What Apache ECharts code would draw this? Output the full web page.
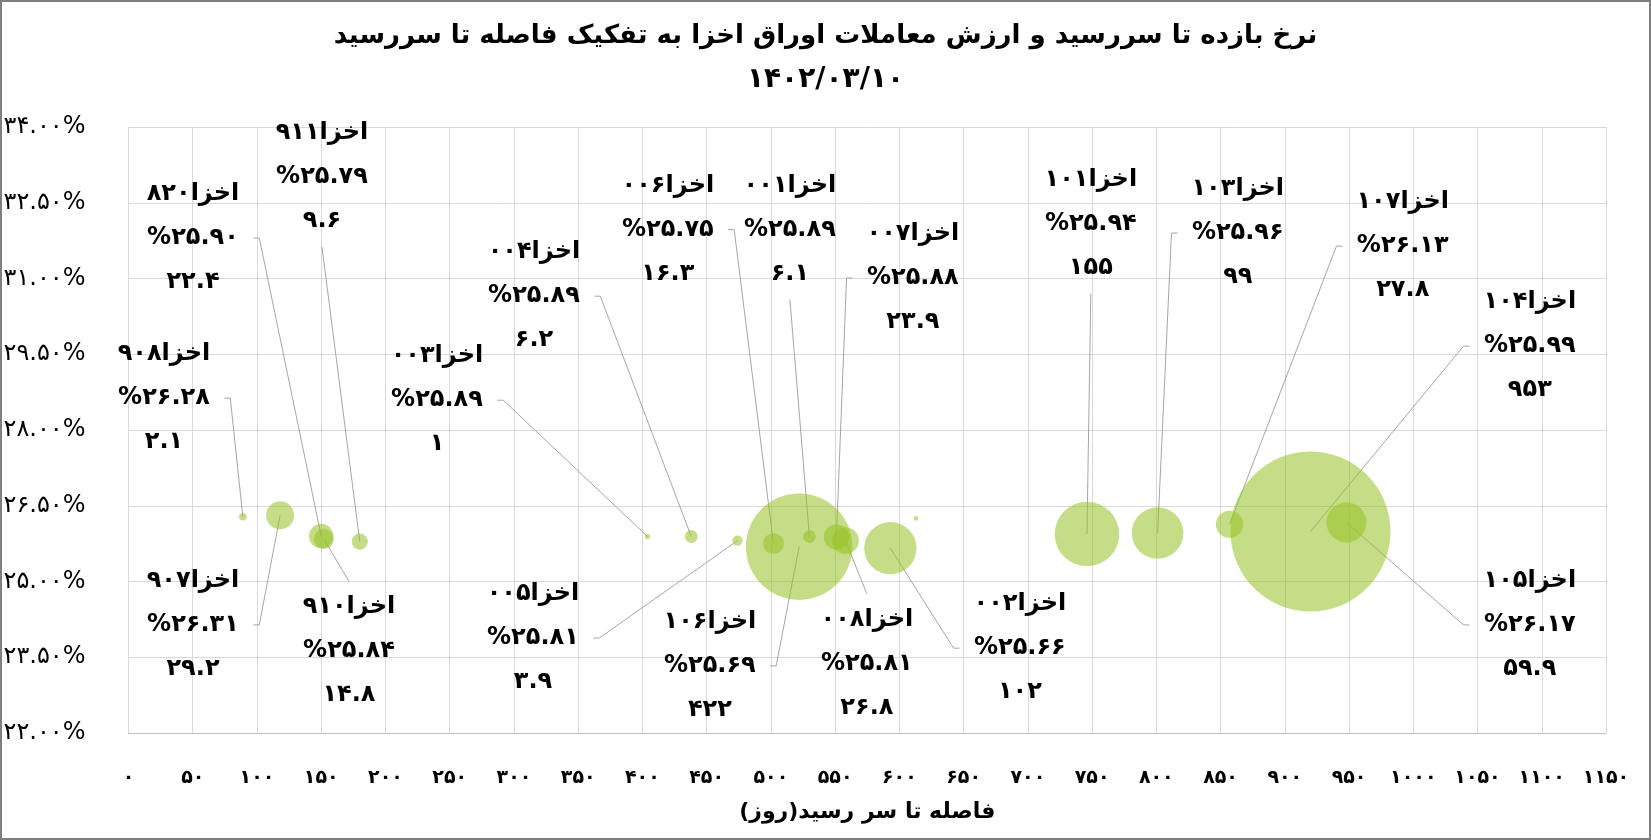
<!DOCTYPE html>
<html><head><meta charset="utf-8">
<script src="https://cdn.jsdelivr.net/npm/echarts@6/dist/echarts.min.js"></script>
<style>html,body{margin:0;padding:0;background:#fff}#c{width:1651px;height:840px}</style>
</head><body><div id="c"></div>
<script>
// ---- data ----
const names  = ['اخزا۹۰۸','اخزا۹۰۷','اخزا۸۲۰','اخزا۹۱۰','اخزا۹۱۱','اخزا۰۰۳','اخزا۰۰۴','اخزا۰۰۵','اخزا۰۰۶','اخزا۰۰۱','اخزا۱۰۶','اخزا۰۰۷','اخزا۰۰۸','اخزا۰۰۲','اخزا۱۰۱','اخزا۱۰۳','اخزا۱۰۷','اخزا۱۰۴','اخزا۱۰۵',''];
const days   = [89, 118, 150, 152, 180, 404, 438, 474, 502, 530, 522, 551, 558, 593, 746, 801, 857, 920, 948, 613];
const yields = [26.28, 26.31, 25.90, 25.84, 25.79, 25.89, 25.89, 25.81, 25.75, 25.89, 25.69, 25.88, 25.81, 25.66, 25.94, 25.96, 26.13, 25.99, 26.17, 26.25];
const values = [2.1, 29.2, 22.4, 14.8, 9.6, 1, 6.2, 3.9, 16.3, 6.1, 422, 23.9, 26.8, 102, 155, 99, 27.8, 953, 59.9, 0.8];
const xTicks = [0, 1150, 50];          // min, max, step (days)
const yTicks = [22, 34, 1.5];          // min, max, step (%)
const titleText = 'نرخ بازده تا سررسید و ارزش معاملات اوراق اخزا به تفکیک فاصله تا سررسید';
const dateText  = '۱۴۰۲/۰۳/۱۰';
const xName     = 'فاصله تا سر رسید(روز)';

// ---- label layout (label centre in axis units, leader side) ----
const labelAt = [
  [27.6, 28.63, 'r'], [50.2, 24.14, 'r'], [50.2, 31.80, 'r'], [171.6, 23.62, 't'], [150.6, 33.01, 'b'],
  [240.1, 28.59, 'r'], [315.6, 30.65, 'r'], [314.8, 23.88, 'r'], [419.8, 31.97, 'r'], [514.8, 31.97, 'b'],
  [452.5, 23.33, 'r'], [610.5, 31.01, 'l'], [574.7, 23.37, 't'], [693.8, 23.68, 'l'], [749.0, 32.08, 'b'],
  [863.4, 31.90, 'l'], [991.8, 31.64, 'l'], [1090.7, 29.66, 'l'], [1090.7, 24.14, 'l'], null
];

const FA = '۰۱۲۳۴۵۶۷۸۹';
const fa = s => String(s).replace(/[0-9]/g, d => FA[+d]);
const FONT_FAM = '"DejaVu Sans", sans-serif';
const LBL_FS = 24, LBL_LH = 44;
const LBL_FONT = 'bold ' + LBL_FS + 'px ' + FONT_FAM;
const ctx = document.createElement('canvas').getContext('2d');
const measure = t => { ctx.font = LBL_FONT; return ctx.measureText(t).width; };
const maxV = Math.max(...values);

const chart = echarts.init(document.getElementById('c'), null, {renderer: 'canvas'});
const labelled = names.map((n, i) => i).filter(i => labelAt[i]);

chart.setOption({
  animation: false,
  backgroundColor: '#fff',
  title: [
    {text: titleText, left: 'center', top: 18, textStyle: {fontSize: 26, fontWeight: 'bold', color: '#000', fontFamily: FONT_FAM}},
    {text: dateText, left: 'center', top: 61, textStyle: {fontSize: 28, fontWeight: 'bold', color: '#000', fontFamily: FONT_FAM}}
  ],
  graphic: [{type: 'rect', shape: {x: 1, y: 1, width: 1649, height: 838}, style: {fill: 'none', stroke: '#7f7f7f', lineWidth: 2}, silent: true}],
  grid: {left: 128.5, right: 45, top: 127, bottom: 107, containLabel: false},
  xAxis: {
    type: 'value', min: xTicks[0], max: xTicks[1], interval: xTicks[2],
    name: xName, nameLocation: 'middle', nameGap: 68,
    nameTextStyle: {fontSize: 22, fontWeight: 'bold', color: '#000', fontFamily: FONT_FAM},
    axisLine: {show: true, lineStyle: {color: '#bfbfbf'}},
    axisTick: {show: false},
    splitLine: {show: true, lineStyle: {color: '#d9d9d9'}},
    axisLabel: {margin: 36, color: '#000', fontSize: 19, fontWeight: 'bold', fontFamily: FONT_FAM, formatter: v => fa(v)}
  },
  yAxis: {
    type: 'value', min: yTicks[0], max: yTicks[1], interval: yTicks[2],
    axisLine: {show: true, lineStyle: {color: '#d9d9d9'}},
    axisTick: {show: false},
    splitLine: {show: true, lineStyle: {color: '#d9d9d9'}},
    axisLabel: {margin: 43, color: '#000', fontSize: 24, fontFamily: FONT_FAM, formatter: v => fa(v.toFixed(2)) + '%'}
  },
  series: [
    {
      type: 'scatter',
      data: days.map((d, i) => [d, yields[i], values[i]]),
      symbolSize: v => 160 * Math.sqrt(v[2] / maxV),
      itemStyle: {color: 'rgba(152,194,40,0.7)'},
      emphasis: {disabled: true},
      silent: true
    },
    {
      type: 'custom',
      silent: true,
      data: labelled.map(i => [days[i], yields[i], i]),
      renderItem: (params, api) => {
        const i = api.value(2);
        const c = api.coord([days[i], yields[i]]);
        const L = labelAt[i];
        const p = api.coord([L[0], L[1]]);
        const lines = [names[i], '%' + fa(yields[i].toFixed(2)), fa(values[i])];
        const half = Math.max(...lines.map(measure)) / 2;
        const gap = 14, stub = 6;
        let pts;
        if (L[2] === 'r') { const s = [p[0] + half + gap, p[1]]; pts = [s, [s[0] + stub, s[1]], c]; }
        else if (L[2] === 'l') { const s = [p[0] - half - gap, p[1]]; pts = [s, [s[0] - stub, s[1]], c]; }
        else if (L[2] === 't') { const s = [p[0], p[1] - LBL_LH - LBL_FS / 2 - gap]; pts = [s, c]; }
        else { const s = [p[0], p[1] + LBL_LH + LBL_FS / 2 + gap]; pts = [s, c]; }
        const children = [{type: 'polyline', shape: {points: pts}, style: {stroke: '#a6a6a6', lineWidth: 1, fill: null}}];
        lines.forEach((t, k) => children.push({
          type: 'text', x: p[0], y: p[1] + (k - 1) * LBL_LH,
          style: {text: t, font: LBL_FONT, fill: '#000', align: 'center', verticalAlign: 'middle'}
        }));
        return {type: 'group', children};
      }
    }
  ]
});
</script></body></html>
